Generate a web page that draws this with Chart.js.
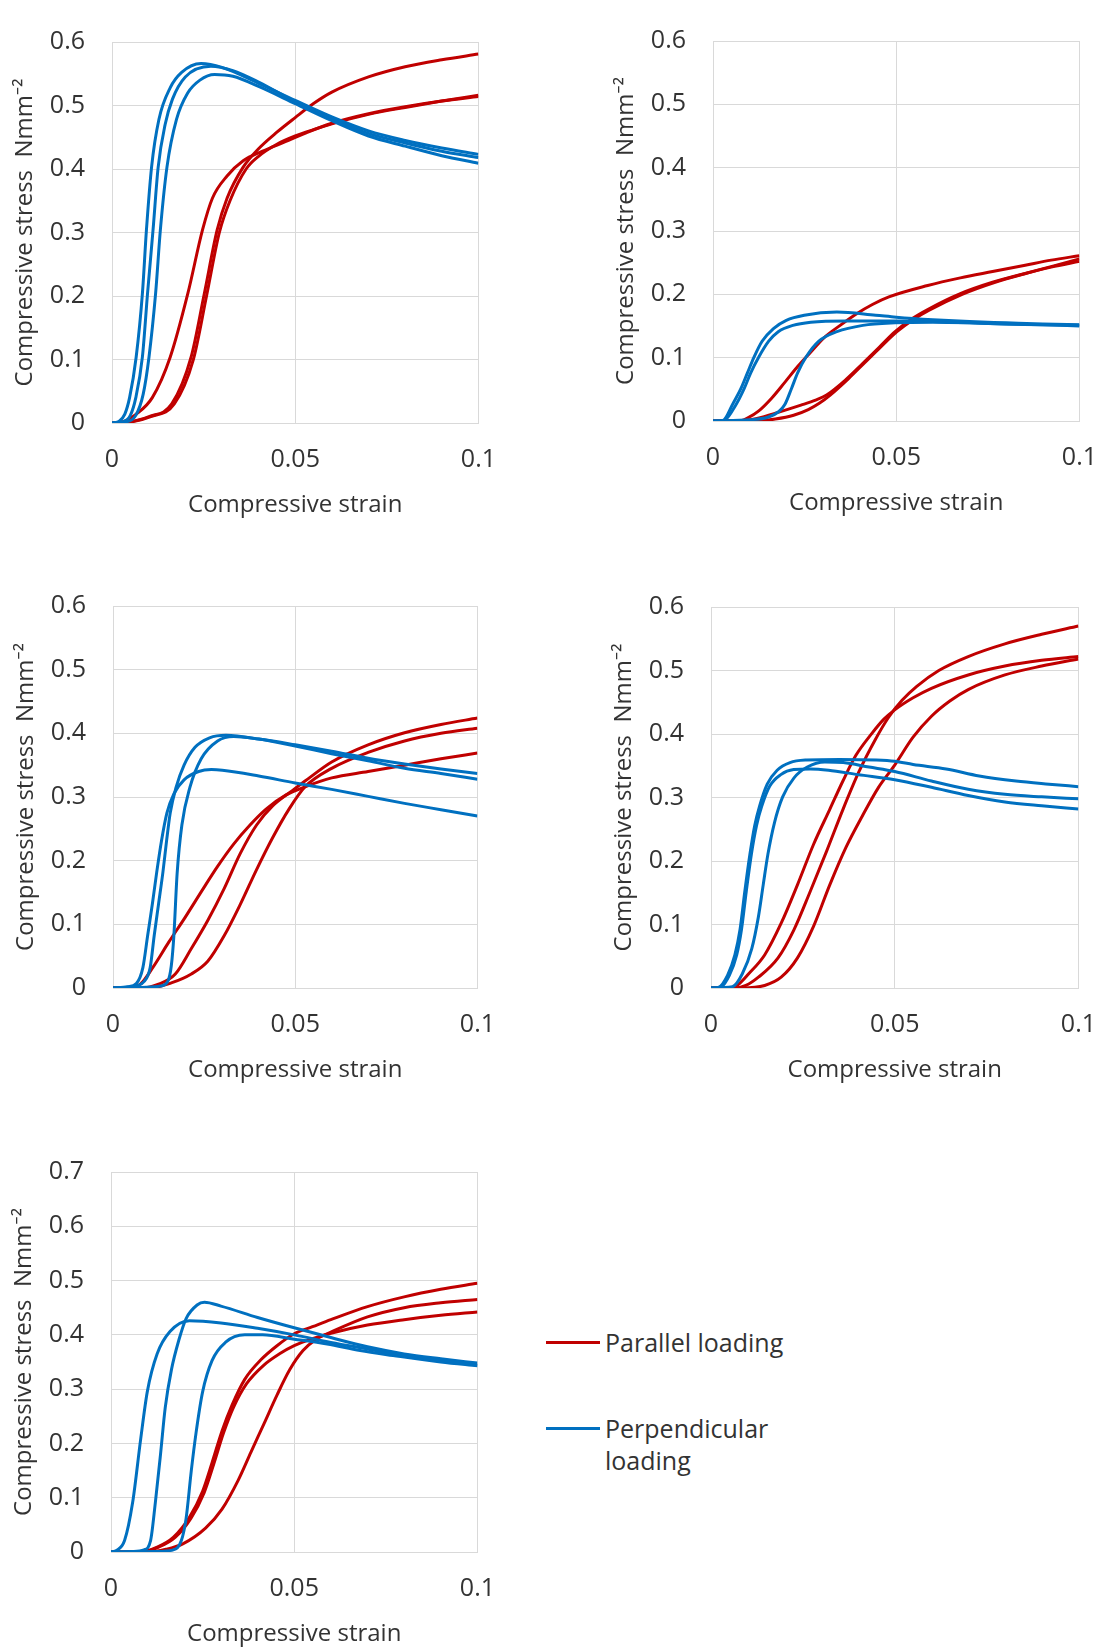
<!DOCTYPE html>
<html>
<head>
<meta charset="utf-8">
<script src="https://cdn.jsdelivr.net/npm/chart.js@4.4.1/dist/chart.umd.min.js"></script>
<style>
html,body{margin:0;padding:0;background:#fff;}
#wrap{position:relative;width:1118px;height:1651px;overflow:hidden;background:#fff;font-family:"Open Sans",sans-serif;color:#333;}
#wrap canvas{position:absolute;}
.leg{position:absolute;font-size:25px;line-height:32px;color:#333;}
.sw{position:absolute;height:3px;width:54px;}
</style>
</head>
<body>
<div id="wrap"></div>
<script>
// ---------------- DATA ----------------
const seriesNames = ['Parallel loading', 'Perpendicular loading'];
const xTitle = 'Compressive strain';
const yTitle = 'Compressive stress  Nmm\u207B\u00B2';
const strainMax = 0.1;
const strainStep = 0.05;
const stressStep = 0.1;
const stressMax = [0.6, 0.6, 0.6, 0.6, 0.7];

// Panel 1 (top left)
const p1Par1 = [[0,0],[0.003,0.002],[0.0066,0.014],[0.011,0.04],[0.0159,0.104],[0.0207,0.204],[0.0247,0.304],[0.0274,0.354],[0.0314,0.389],[0.0358,0.413],[0.0411,0.428],[0.0473,0.443],[0.053,0.457],[0.06,0.472],[0.07,0.487],[0.08,0.498],[0.09,0.507],[0.1,0.514]];
const p1Par2 = [[0,0],[0.005,0.002],[0.0101,0.01],[0.0163,0.03],[0.0216,0.104],[0.0252,0.204],[0.0287,0.304],[0.0314,0.354],[0.0358,0.403],[0.04,0.432],[0.045,0.458],[0.05,0.481],[0.055,0.503],[0.06,0.521],[0.07,0.545],[0.08,0.561],[0.09,0.572],[0.1,0.581]];
const p1Par3 = [[0,0],[0.0055,0.002],[0.0106,0.01],[0.017,0.03],[0.0222,0.1],[0.0258,0.2],[0.0293,0.3],[0.0322,0.35],[0.0366,0.4],[0.04,0.42],[0.045,0.439],[0.05,0.452],[0.055,0.462],[0.06,0.471],[0.07,0.486],[0.08,0.497],[0.09,0.507],[0.1,0.516]];
const p1Perp1 = [[0,0],[0.002,0.003],[0.0035,0.014],[0.0048,0.04],[0.0066,0.104],[0.0083,0.204],[0.0094,0.304],[0.0108,0.403],[0.0128,0.478],[0.0159,0.528],[0.019,0.552],[0.0243,0.566],[0.03,0.56],[0.04,0.535],[0.05,0.508],[0.06,0.482],[0.07,0.46],[0.08,0.445],[0.09,0.433],[0.1,0.423]];
const p1Perp2 = [[0,0],[0.003,0.002],[0.005,0.012],[0.0065,0.04],[0.0083,0.104],[0.0097,0.204],[0.0112,0.304],[0.0126,0.403],[0.0145,0.47],[0.0165,0.51],[0.02,0.545],[0.027,0.562],[0.033,0.555],[0.04,0.537],[0.05,0.506],[0.06,0.479],[0.07,0.456],[0.08,0.441],[0.09,0.428],[0.1,0.418]];
const p1Perp3 = [[0,0],[0.004,0.002],[0.0065,0.012],[0.0085,0.045],[0.0101,0.104],[0.0119,0.204],[0.0132,0.304],[0.015,0.403],[0.0176,0.478],[0.0207,0.52],[0.024,0.54],[0.028,0.549],[0.033,0.546],[0.04,0.53],[0.05,0.503],[0.06,0.476],[0.07,0.452],[0.08,0.436],[0.09,0.421],[0.1,0.409]];

// Panel 2 (top right)
const p2Par1 = [[0,0],[0.007,0],[0.0095,0.005],[0.0125,0.016],[0.016,0.036],[0.0196,0.061],[0.0231,0.086],[0.0267,0.109],[0.0302,0.131],[0.0347,0.151],[0.0391,0.169],[0.0435,0.184],[0.048,0.196],[0.0586,0.214],[0.0675,0.226],[0.0763,0.236],[0.0852,0.246],[0.0923,0.254],[0.1,0.261]];
const p2Par2 = [[0,0],[0.008,0],[0.012,0.004],[0.018,0.014],[0.024,0.025],[0.028,0.033],[0.031,0.041],[0.0364,0.066],[0.0409,0.091],[0.0453,0.116],[0.0497,0.141],[0.0542,0.161],[0.0586,0.176],[0.0675,0.201],[0.0763,0.219],[0.0852,0.233],[0.0923,0.243],[0.1,0.252]];
const p2Par3 = [[0,0],[0.012,0],[0.017,0.003],[0.022,0.009],[0.026,0.018],[0.029,0.028],[0.032,0.041],[0.037,0.067],[0.0414,0.092],[0.0458,0.117],[0.0502,0.141],[0.0546,0.16],[0.059,0.175],[0.068,0.2],[0.077,0.219],[0.086,0.234],[0.093,0.245],[0.1,0.256]];
const p2Perp1 = [[0,0],[0.0027,0.001],[0.0054,0.027],[0.0076,0.051],[0.0094,0.076],[0.0112,0.101],[0.0134,0.126],[0.0165,0.146],[0.02,0.159],[0.0249,0.167],[0.0338,0.172],[0.0444,0.167],[0.05,0.164],[0.06,0.16],[0.07,0.157],[0.08,0.155],[0.09,0.153],[0.1,0.152]];
const p2Perp2 = [[0,0],[0.003,0.001],[0.0063,0.026],[0.0085,0.051],[0.0103,0.076],[0.0125,0.101],[0.0152,0.126],[0.0178,0.141],[0.0218,0.151],[0.0267,0.156],[0.0364,0.158],[0.05,0.158],[0.06,0.157],[0.07,0.155],[0.08,0.153],[0.09,0.152],[0.1,0.151]];
const p2Perp3 = [[0,0],[0.01,0.002],[0.015,0.006],[0.018,0.015],[0.0196,0.026],[0.0214,0.051],[0.0231,0.076],[0.0254,0.101],[0.0289,0.126],[0.0338,0.141],[0.0409,0.151],[0.0497,0.155],[0.06,0.156],[0.07,0.155],[0.08,0.153],[0.09,0.152],[0.1,0.15]];

// Panel 3 (middle left)
const p3Par1 = [[0,0],[0.004,0],[0.0075,0.006],[0.0109,0.032],[0.0153,0.072],[0.0198,0.111],[0.0242,0.151],[0.0287,0.191],[0.0331,0.226],[0.0376,0.256],[0.042,0.281],[0.0474,0.303],[0.0527,0.316],[0.06,0.33],[0.07,0.34],[0.08,0.35],[0.09,0.36],[0.1,0.369]];
const p3Par2 = [[0,0],[0.008,0],[0.0125,0.006],[0.0171,0.022],[0.0215,0.062],[0.026,0.106],[0.0305,0.156],[0.0349,0.211],[0.0394,0.256],[0.0438,0.286],[0.0492,0.31],[0.0527,0.325],[0.06,0.355],[0.07,0.382],[0.08,0.401],[0.09,0.414],[0.1,0.424]];
const p3Par3 = [[0,0],[0.01,0],[0.016,0.008],[0.0215,0.022],[0.026,0.042],[0.0305,0.082],[0.0349,0.131],[0.0394,0.186],[0.0438,0.236],[0.0483,0.281],[0.0527,0.316],[0.06,0.345],[0.07,0.37],[0.08,0.388],[0.09,0.4],[0.1,0.408]];
const p3Perp1 = [[0,0],[0.005,0.002],[0.0085,0.01],[0.0102,0.032],[0.0113,0.082],[0.0125,0.132],[0.0137,0.182],[0.0147,0.231],[0.0157,0.275],[0.0173,0.315],[0.0195,0.35],[0.0225,0.378],[0.0265,0.393],[0.031,0.397],[0.04,0.391],[0.05,0.38],[0.06,0.368],[0.07,0.357],[0.08,0.345],[0.09,0.337],[0.1,0.328]];
const p3Perp2 = [[0,0],[0.004,0.002],[0.0064,0.007],[0.0082,0.032],[0.0095,0.082],[0.0108,0.132],[0.012,0.182],[0.0133,0.231],[0.0148,0.275],[0.0167,0.305],[0.0195,0.327],[0.0235,0.34],[0.027,0.343],[0.03,0.342],[0.04,0.333],[0.05,0.322],[0.06,0.312],[0.07,0.301],[0.08,0.29],[0.09,0.28],[0.1,0.27]];
const p3Perp3 = [[0,0],[0.009,0.001],[0.013,0.003],[0.015,0.01],[0.016,0.035],[0.0167,0.082],[0.0176,0.18],[0.0189,0.256],[0.0211,0.315],[0.0242,0.36],[0.0287,0.388],[0.0331,0.395],[0.04,0.391],[0.05,0.382],[0.06,0.372],[0.07,0.361],[0.08,0.352],[0.09,0.344],[0.1,0.337]];

// Panel 4 (middle right)
const p4Par1 = [[0,0],[0.0049,0],[0.0075,0.006],[0.0102,0.022],[0.0146,0.052],[0.0191,0.102],[0.0235,0.162],[0.0279,0.226],[0.0323,0.281],[0.0359,0.326],[0.0394,0.366],[0.0438,0.401],[0.047,0.423],[0.05,0.438],[0.055,0.457],[0.06,0.472],[0.07,0.493],[0.08,0.507],[0.09,0.516],[0.1,0.522]];
const p4Par2 = [[0,0],[0.0067,0],[0.0095,0.004],[0.0129,0.017],[0.0182,0.047],[0.0226,0.092],[0.027,0.152],[0.0315,0.216],[0.0359,0.281],[0.0403,0.341],[0.0447,0.391],[0.0483,0.426],[0.052,0.453],[0.056,0.475],[0.062,0.5],[0.07,0.522],[0.08,0.542],[0.09,0.557],[0.1,0.57]];
const p4Par3 = [[0,0],[0.0085,0],[0.0146,0.004],[0.0191,0.017],[0.0235,0.047],[0.0279,0.097],[0.0323,0.162],[0.0367,0.221],[0.0412,0.271],[0.0456,0.316],[0.05,0.351],[0.055,0.395],[0.06,0.428],[0.065,0.452],[0.07,0.47],[0.08,0.493],[0.09,0.507],[0.1,0.518]];
const p4Perp1 = [[0,0],[0.002,0.001],[0.0045,0.02],[0.0065,0.052],[0.0079,0.092],[0.0092,0.152],[0.0106,0.211],[0.0119,0.256],[0.0132,0.286],[0.0153,0.321],[0.018,0.343],[0.0215,0.355],[0.026,0.359],[0.035,0.36],[0.045,0.359],[0.05,0.357],[0.055,0.352],[0.064,0.345],[0.073,0.334],[0.083,0.326],[0.092,0.321],[0.1,0.317]];
const p4Perp2 = [[0,0],[0.0025,0.001],[0.005,0.02],[0.007,0.052],[0.0083,0.092],[0.0096,0.152],[0.011,0.211],[0.0124,0.256],[0.0138,0.286],[0.016,0.318],[0.019,0.336],[0.0225,0.344],[0.027,0.345],[0.032,0.343],[0.04,0.336],[0.05,0.328],[0.06,0.316],[0.07,0.303],[0.08,0.293],[0.09,0.287],[0.1,0.282]];
const p4Perp3 = [[0,0],[0.0058,0.002],[0.0085,0.022],[0.0111,0.062],[0.0129,0.112],[0.0142,0.162],[0.0155,0.211],[0.0173,0.261],[0.0195,0.301],[0.0226,0.331],[0.0262,0.348],[0.031,0.356],[0.036,0.355],[0.043,0.348],[0.05,0.341],[0.06,0.326],[0.07,0.313],[0.08,0.305],[0.09,0.301],[0.1,0.298]];

// Panel 5 (bottom left)
const p5Par1 = [[0,0],[0.008,0],[0.0126,0.009],[0.017,0.027],[0.0214,0.064],[0.025,0.112],[0.0276,0.165],[0.0303,0.223],[0.033,0.27],[0.0365,0.318],[0.0409,0.354],[0.0453,0.38],[0.05,0.402],[0.055,0.415],[0.06,0.428],[0.07,0.452],[0.08,0.47],[0.09,0.484],[0.1,0.495]];
const p5Par2 = [[0,0],[0.0085,0],[0.013,0.009],[0.0175,0.027],[0.0218,0.062],[0.0254,0.109],[0.028,0.161],[0.0307,0.219],[0.0334,0.266],[0.037,0.31],[0.0415,0.343],[0.046,0.365],[0.05,0.38],[0.055,0.393],[0.06,0.403],[0.07,0.418],[0.08,0.428],[0.09,0.436],[0.1,0.442]];
const p5Par3 = [[0,0],[0.01,0],[0.015,0.005],[0.0196,0.015],[0.0258,0.044],[0.0303,0.079],[0.0347,0.132],[0.0382,0.184],[0.0418,0.237],[0.0453,0.289],[0.0488,0.336],[0.0524,0.371],[0.056,0.392],[0.06,0.405],[0.07,0.433],[0.08,0.45],[0.09,0.459],[0.1,0.465]];
const p5Perp1 = [[0,0],[0.0015,0.003],[0.0037,0.021],[0.0059,0.091],[0.0081,0.208],[0.0099,0.295],[0.0126,0.365],[0.0161,0.406],[0.0214,0.426],[0.03,0.422],[0.04,0.412],[0.05,0.4],[0.06,0.386],[0.07,0.374],[0.08,0.362],[0.09,0.353],[0.1,0.344]];
const p5Perp2 = [[0,0],[0.006,0.001],[0.009,0.004],[0.0108,0.021],[0.0121,0.091],[0.0135,0.179],[0.0148,0.266],[0.0165,0.336],[0.0185,0.39],[0.0205,0.43],[0.0235,0.455],[0.0255,0.46],[0.03,0.453],[0.04,0.432],[0.05,0.413],[0.06,0.395],[0.07,0.378],[0.08,0.365],[0.09,0.356],[0.1,0.348]];
const p5Perp3 = [[0,0],[0.012,0.001],[0.017,0.004],[0.0192,0.021],[0.0205,0.062],[0.0219,0.149],[0.0232,0.219],[0.025,0.295],[0.0276,0.353],[0.0312,0.386],[0.0365,0.4],[0.0414,0.4],[0.05,0.392],[0.059,0.383],[0.068,0.371],[0.077,0.362],[0.09,0.35],[0.1,0.343]];

// ---------------- LAYOUT / STYLE ----------------
const PLOT_BOXES = [
  {left:112, top:22,   right:488,  bottom:423},
  {left:713, top:21,   right:1089, bottom:421},
  {left:113, top:586,  right:487,  bottom:988},
  {left:711, top:587,  right:1088, bottom:988},
  {left:111, top:1152, right:487,  bottom:1552}
];
const AXIS_W = 112, AXIS_H = 100, PAD_T = 22, PAD_R = 30;
const RED = '#C00000', BLUE = '#0070C0', GRID = '#d9d9d9', TXT = '#333333';
const FONT = '"Open Sans", "Noto Sans", "DejaVu Sans", sans-serif';

const panels = [
  {par:[p1Par1,p1Par2,p1Par3], perp:[p1Perp1,p1Perp2,p1Perp3]},
  {par:[p2Par1,p2Par2,p2Par3], perp:[p2Perp1,p2Perp2,p2Perp3]},
  {par:[p3Par1,p3Par2,p3Par3], perp:[p3Perp1,p3Perp2,p3Perp3]},
  {par:[p4Par1,p4Par2,p4Par3], perp:[p4Perp1,p4Perp2,p4Perp3]},
  {par:[p5Par1,p5Par2,p5Par3], perp:[p5Perp1,p5Perp2,p5Perp3]}
];

const fmt = v => String(parseFloat(Number(v).toFixed(3)));
const wrap = document.getElementById('wrap');

panels.forEach((p, i) => {
  const box = PLOT_BOXES[i];
  const W = (box.right - box.left) + AXIS_W + PAD_R;
  const H = (box.bottom - box.top) + PAD_T + AXIS_H;
  const c = document.createElement('canvas');
  c.width = W; c.height = H;
  c.style.left = (box.left - AXIS_W) + 'px';
  c.style.top = (box.top - PAD_T) + 'px';
  c.style.width = W + 'px'; c.style.height = H + 'px';
  wrap.appendChild(c);

  const datasets = [];
  p.par.forEach(d => datasets.push({label: seriesNames[0], data: d, borderColor: RED, backgroundColor: RED, order: 1}));
  p.perp.forEach(d => datasets.push({label: seriesNames[1], data: d, borderColor: BLUE, backgroundColor: BLUE, order: 0}));

  new Chart(c, {
    type: 'line',
    data: {datasets},
    options: {
      responsive: false, animation: false, devicePixelRatio: 1,
      layout: {padding: {left: 0, top: PAD_T, right: PAD_R, bottom: 0}},
      plugins: {legend: {display: false}, tooltip: {enabled: false}},
      elements: {point: {radius: 0}, line: {borderWidth: 3, cubicInterpolationMode: 'monotone', fill: false}},
      scales: {
        x: {
          type: 'linear', min: 0, max: strainMax,
          afterFit: s => { s.height = AXIS_H; },
          ticks: {stepSize: strainStep, padding: 22, color: TXT, font: {family: FONT, size: 25}, callback: v => fmt(v), maxRotation: 0, autoSkip: false},
          grid: {color: GRID, lineWidth: 1, drawTicks: false},
          border: {color: GRID, width: 1},
          title: {display: true, text: xTitle, color: TXT, font: {family: FONT, size: 24}, padding: {top: 0, bottom: 3}}
        },
        y: {
          type: 'linear', min: 0, max: stressMax[i],
          afterFit: s => { s.width = AXIS_W; },
          ticks: {stepSize: stressStep, padding: 27, color: TXT, font: {family: FONT, size: 25}, callback: v => fmt(v), autoSkip: false},
          grid: {color: GRID, lineWidth: 1, drawTicks: false},
          border: {color: GRID, width: 1},
          title: {display: true, text: yTitle, color: TXT, font: {family: FONT, size: 24}, padding: {top: 10.6, bottom: 0}}
        }
      }
    }
  });
});

// Legend (HTML text)
const legendItems = [
  {name: seriesNames[0], color: RED, swTop: 1341, textTop: 1326, width: 260},
  {name: seriesNames[1], color: BLUE, swTop: 1427, textTop: 1412, width: 175}
];
legendItems.forEach(it => {
  const sw = document.createElement('div');
  sw.className = 'sw';
  sw.style.left = '546px'; sw.style.top = it.swTop + 'px'; sw.style.background = it.color;
  wrap.appendChild(sw);
  const t = document.createElement('div');
  t.className = 'leg';
  t.style.left = '605px'; t.style.top = it.textTop + 'px'; t.style.width = it.width + 'px';
  t.textContent = it.name;
  wrap.appendChild(t);
});
</script>
</body>
</html>
